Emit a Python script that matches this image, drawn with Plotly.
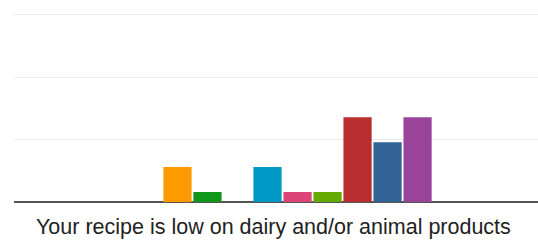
import plotly.graph_objects as go

category = ["Your recipe is low on dairy and/or animal products"]
series_names = ["S1", "S2", "S3", "S4", "S5", "S6", "S7", "S8", "S9", "S10", "S11"]
series_values = [0, 0, 7, 2, 0, 7, 2, 2, 17, 12, 17]
colors = ["#3366cc", "#dc3912", "#ff9900", "#109618", "#990099", "#0099c6",
          "#dd4477", "#66aa00", "#b82e2e", "#316395", "#994499"]
grid_ticks = [0, 12.5, 25, 37.5]

fig = go.Figure()
for name, val, col in zip(series_names, series_values, colors):
    fig.add_trace(go.Bar(x=category, y=[val], name=name, marker=dict(color=col, line=dict(width=0))))

fig.update_layout(
    width=538, height=240,
    margin=dict(l=14, r=0, t=0, b=38),
    paper_bgcolor="white", plot_bgcolor="white",
    barmode="group", bargap=0.37, bargroupgap=0.06,
    showlegend=False,
    font=dict(family="Liberation Sans, Arial, sans-serif", color="#222222"),
    annotations=[dict(
        text=category[0], xref="paper", yref="paper",
        x=(273 - 14) / 524, y=0, xanchor="center", yanchor="top", yshift=-11,
        showarrow=False, font=dict(size=21.5, color="#222222"),
    )],
)
fig.update_xaxes(
    range=[-0.4838, 0.5162], showgrid=False, zeroline=False,
    showline=False, ticks="", showticklabels=False,
)
fig.update_yaxes(
    range=[0, 40.5], tickvals=grid_ticks, showticklabels=False,
    gridcolor="#ebebeb", gridwidth=1, zeroline=True, zerolinecolor="#555555",
    zerolinewidth=2, showline=False,
)
fig.write_html("out.html", config={"displayModeBar": False},
               post_script="document.body.style.margin='0';document.body.style.padding='0';")
